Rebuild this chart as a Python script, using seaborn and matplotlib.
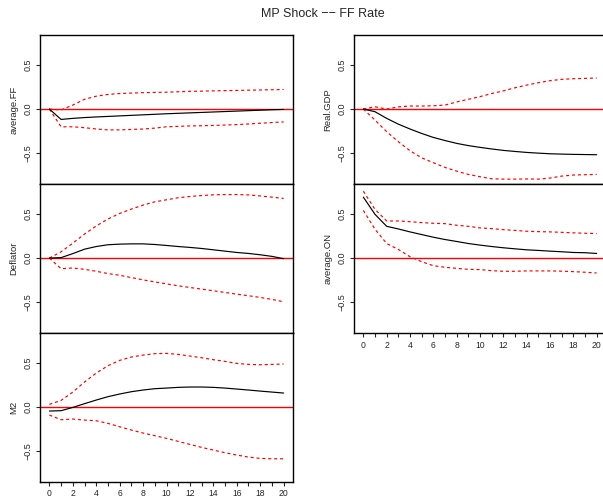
import numpy as np
import pandas as pd
import matplotlib
matplotlib.use("Agg")
import matplotlib.pyplot as plt
import seaborn as sns

horizon = list(range(21))

ff_resp = [0, -0.117, -0.105, -0.096, -0.089, -0.083, -0.077, -0.071, -0.065, -0.059, -0.053,
           -0.048, -0.043, -0.038, -0.033, -0.028, -0.023, -0.018, -0.013, -0.008, -0.004]
ff_upper = [0, -0.01, 0.045, 0.11, 0.145, 0.165, 0.175, 0.18, 0.185, 0.188, 0.19,
            0.195, 0.2, 0.202, 0.205, 0.208, 0.21, 0.213, 0.215, 0.218, 0.22]
ff_lower = [0, -0.2, -0.2, -0.21, -0.225, -0.235, -0.235, -0.23, -0.225, -0.215, -0.2,
            -0.195, -0.19, -0.188, -0.185, -0.18, -0.175, -0.168, -0.16, -0.152, -0.145]

gdp_resp = [0, -0.03, -0.105, -0.17, -0.225, -0.275, -0.32, -0.355, -0.387, -0.412, -0.432,
            -0.45, -0.466, -0.478, -0.489, -0.497, -0.504, -0.508, -0.511, -0.513, -0.515]
gdp_upper = [0, 0.026, 0.0, 0.025, 0.034, 0.034, 0.037, 0.045, 0.08, 0.11, 0.14,
             0.175, 0.205, 0.24, 0.27, 0.297, 0.32, 0.335, 0.342, 0.346, 0.35]
gdp_lower = [0, -0.124, -0.255, -0.368, -0.47, -0.55, -0.605, -0.658, -0.7, -0.737, -0.763,
             -0.786, -0.79, -0.79, -0.788, -0.79, -0.778, -0.756, -0.744, -0.74, -0.737]

defl_resp = [0, 0.005, 0.05, 0.1, 0.13, 0.15, 0.157, 0.16, 0.16, 0.153, 0.142,
             0.13, 0.12, 0.108, 0.093, 0.078, 0.063, 0.052, 0.037, 0.019, -0.007]
defl_upper = [0, 0.07, 0.168, 0.27, 0.362, 0.44, 0.503, 0.552, 0.597, 0.634, 0.657,
              0.68, 0.694, 0.705, 0.713, 0.716, 0.716, 0.712, 0.7, 0.687, 0.672]
defl_lower = [0, -0.12, -0.112, -0.127, -0.149, -0.175, -0.194, -0.22, -0.246, -0.269, -0.291,
              -0.313, -0.332, -0.35, -0.369, -0.388, -0.407, -0.425, -0.444, -0.466, -0.493]

on_resp = [0.687, 0.493, 0.358, 0.328, 0.295, 0.265, 0.235, 0.209, 0.187, 0.164, 0.146,
           0.13, 0.116, 0.104, 0.093, 0.086, 0.078, 0.071, 0.063, 0.06, 0.052]
on_upper = [0.754, 0.549, 0.418, 0.418, 0.41, 0.4, 0.392, 0.388, 0.37, 0.358, 0.34,
            0.332, 0.32, 0.312, 0.302, 0.298, 0.295, 0.29, 0.284, 0.28, 0.276]
on_lower = [0.537, 0.325, 0.164, 0.097, 0.015, -0.041, -0.086, -0.104, -0.116, -0.127, -0.13,
            -0.142, -0.149, -0.149, -0.145, -0.145, -0.145, -0.148, -0.153, -0.16, -0.168]

m2_resp = [-0.045, -0.041, -0.004, 0.038, 0.079, 0.117, 0.147, 0.173, 0.192, 0.207, 0.214,
           0.222, 0.226, 0.226, 0.222, 0.214, 0.203, 0.192, 0.18, 0.169, 0.158]
m2_upper = [0.03, 0.075, 0.169, 0.282, 0.383, 0.466, 0.526, 0.564, 0.586, 0.602, 0.605,
            0.594, 0.575, 0.556, 0.534, 0.515, 0.492, 0.481, 0.477, 0.481, 0.485]
m2_lower = [-0.09, -0.143, -0.135, -0.147, -0.154, -0.184, -0.222, -0.259, -0.293, -0.323, -0.353,
            -0.387, -0.421, -0.455, -0.485, -0.515, -0.541, -0.564, -0.579, -0.583, -0.583]

variables = ["average.FF", "Deflator", "M2", "Real.GDP", "average.ON"]
series = {
    "average.FF": (ff_resp, ff_upper, ff_lower),
    "Deflator": (defl_resp, defl_upper, defl_lower),
    "M2": (m2_resp, m2_upper, m2_lower),
    "Real.GDP": (gdp_resp, gdp_upper, gdp_lower),
    "average.ON": (on_resp, on_upper, on_lower),
}
title = "MP Shock \u2212\u2212 FF Rate"
ytick_vals = [-0.5, 0.0, 0.5]
ytick_labels = ["\u22120.5", "0.0", "0.5"]

sns.set_style("ticks")
plt.rcParams["font.family"] = ["Liberation Sans", "DejaVu Sans"]

W, H = 603, 497
fig = plt.figure(figsize=(W / 100, H / 100), dpi=100)

def rect(x0, y0, x1, y1):
    return [x0 / W, 1 - y1 / H, (x1 - x0) / W, (y1 - y0) / H]

layout = {
    "average.FF": rect(40, 35, 293, 184),
    "Deflator": rect(40, 184, 293, 333),
    "M2": rect(40, 333, 293, 482),
    "Real.GDP": rect(354, 35, 606, 184),
    "average.ON": rect(354, 184, 606, 333),
}
bottom_panels = {"M2", "average.ON"}

for var in variables:
    resp, up, lo = series[var]
    df = pd.DataFrame({"h": horizon * 3,
                       "value": resp + up + lo,
                       "kind": ["resp"] * 21 + ["upper"] * 21 + ["lower"] * 21})
    ax = fig.add_axes(layout[var])
    ax.axhline(0, color="red", lw=1.0, zorder=1)
    sns.lineplot(data=df[df.kind == "resp"], x="h", y="value", color="black",
                 lw=0.85, ax=ax, zorder=3)
    for k in ["upper", "lower"]:
        sns.lineplot(data=df[df.kind == k], x="h", y="value", color="red",
                     lw=0.85, ax=ax, zorder=2, dashes=False, linestyle=(0, (2.6, 2.4)))
    ax.set_xlim(-0.8, 20.8)
    ax.set_ylim(-0.845, 0.835)
    ax.set_yticks(ytick_vals)
    ax.set_yticklabels(ytick_labels)
    ax.tick_params(axis="y", labelrotation=90, labelsize=6.5, length=3.2, width=0.8, pad=2)
    for t in ax.get_yticklabels():
        t.set_va("center")
    ax.set_ylabel(var, fontsize=6.8, labelpad=4)
    ax.set_xlabel("")
    for s in ax.spines.values():
        s.set_linewidth(1.0)
        s.set_color("black")
    if var in bottom_panels:
        ax.set_xticks(horizon)
        ax.set_xticklabels([str(h) if h % 2 == 0 else "" for h in horizon])
        ax.tick_params(axis="x", labelsize=6.2, length=3.2, width=0.8, pad=2.2)
    else:
        ax.set_xticks([])

fig.text(323 / W, 1 - 14 / H, title, ha="center", va="center", fontsize=9)
fig.savefig("out.png", dpi=100)
